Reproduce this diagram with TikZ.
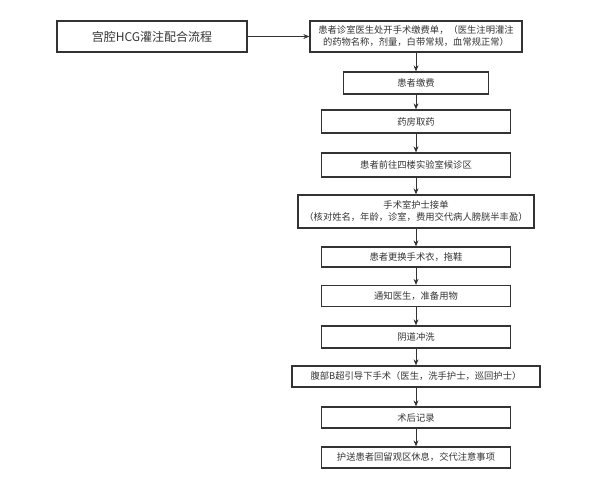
\documentclass[tikz,border=0pt]{standalone}
\usepackage{fontspec}
\setmainfont{Noto Sans CJK SC}
\usetikzlibrary{arrows.meta}
\definecolor{ln}{HTML}{333333}
\tikzset{
  stepbox/.style={draw=ln, line width=1.3pt, inner sep=0pt, font=\fontsize{9.3}{12}\selectfont, align=center, text=ln},
  conn/.style={draw=ln, line width=0.8pt, -{Stealth[length=6pt,width=5pt]}},
}
\begin{document}
\begin{tikzpicture}[x=1pt,y=-1pt]
\useasboundingbox (0,0) rectangle (611,491);
\node[stepbox, minimum width=190pt, minimum height=31pt, font=\fontsize{12}{14}\selectfont] (t) at (152,36.5) {宫腔HCG灌注配合流程};
\node[stepbox, minimum width=212pt, minimum height=31pt] (b1) at (416,36.5) {患者诊室医生处开手术缴费单，（医生注明灌注\\的药物名称，剂量，白带常规，血常规正常）};
\node[stepbox, minimum width=145pt, minimum height=22pt] (b2) at (416,83) {患者缴费};
\node[stepbox, minimum width=189pt, minimum height=23pt] (b3) at (416,121.5) {药房取药};
\node[stepbox, minimum width=189pt, minimum height=24pt] (b4) at (416,165) {患者前往四楼实验室候诊区};
\node[stepbox, minimum width=236pt, minimum height=33pt] (b5) at (416,211.5) {手术室护士接单\\（核对姓名，年龄，诊室，费用交代病人膀胱半丰盈）};
\node[stepbox, minimum width=189pt, minimum height=20pt] (b6) at (416,257) {患者更换手术衣，拖鞋};
\node[stepbox, minimum width=189pt, minimum height=21pt] (b7) at (416,296) {通知医生，准备用物};
\node[stepbox, minimum width=189pt, minimum height=22pt] (b8) at (416,337) {阴道冲洗};
\node[stepbox, minimum width=248pt, minimum height=21pt] (b9) at (416,376.5) {腹部B超引导下手术（医生，洗手护士，巡回护士）};
\node[stepbox, minimum width=189pt, minimum height=21pt] (b10) at (416,417.5) {术后记录};
\node[stepbox, minimum width=189pt, minimum height=21pt] (b11) at (416,457.5) {护送患者回留观区休息，交代注意事项};
\draw[conn] (t) -- (b1);
\foreach \a/\b in {b1/b2,b2/b3,b3/b4,b4/b5,b5/b6,b6/b7,b7/b8,b8/b9,b9/b10,b10/b11}
  \draw[conn] (\a) -- (\b);
\end{tikzpicture}
\end{document}
